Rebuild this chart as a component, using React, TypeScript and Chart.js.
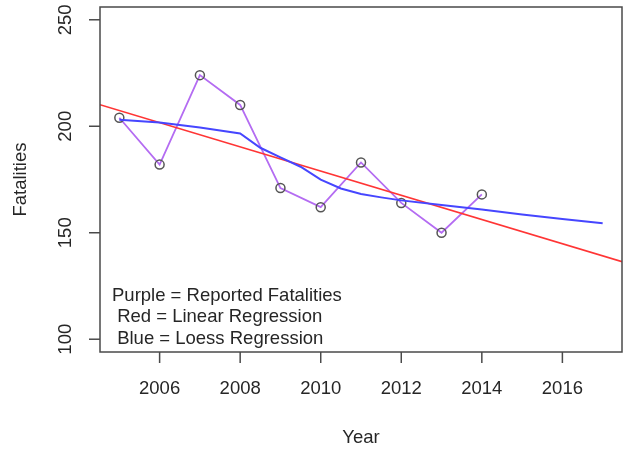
import React, { useEffect, useRef } from "react";
import { Chart, registerables } from "chart.js";

Chart.register(...registerables);

const years = [2005, 2006, 2007, 2008, 2009, 2010, 2011, 2012, 2013, 2014];
const fatalities = [204, 182, 224, 210, 171, 162, 183, 164, 150, 168];

const regressionX = [2004.52, 2017.48];
const regressionY = [210.1, 136.4];

const loessX = [2005, 2006, 2007, 2008, 2008.5, 2009, 2009.5, 2010, 2010.5, 2011, 2011.5, 2012, 2013, 2014, 2015, 2016, 2017];
const loessY = [203.1, 201.8, 199.4, 196.6, 189.9, 185.4, 181.0, 174.9, 170.8, 168.2, 166.6, 165.2, 163.0, 160.9, 158.6, 156.5, 154.5];

const xTicks = [2006, 2008, 2010, 2012, 2014, 2016];
const yTicks = [100, 150, 200, 250];

const xRange = [2004.52, 2017.48];
const yRange = [94, 256];

const legendLines = ["Purple = Reported Fatalities", " Red = Linear Regression", " Blue = Loess Regression"];
const xTitle = "Year";
const yTitle = "Fatalities";

const FONT = '18.5px "Liberation Sans", Arial, sans-serif';
const TEXT = "#262626";
const AXIS = "#4a4a4a";

const axesPlugin = {
  id: "rAxes",
  afterDraw(chart: any) {
    const ctx = chart.ctx;
    const a = chart.chartArea;
    const xs = chart.scales.x;
    const ys = chart.scales.y;
    ctx.save();
    ctx.strokeStyle = AXIS;
    ctx.lineWidth = 1.5;
    ctx.strokeRect(a.left, a.top, a.right - a.left, a.bottom - a.top);
    ctx.fillStyle = TEXT;
    ctx.font = FONT;
    ctx.textAlign = "center";
    ctx.textBaseline = "middle";
    for (const t of xTicks) {
      const px = xs.getPixelForValue(t);
      ctx.beginPath();
      ctx.moveTo(px, a.bottom);
      ctx.lineTo(px, a.bottom + 11);
      ctx.stroke();
      ctx.fillText(String(t), px, a.bottom + 37);
    }
    for (const t of yTicks) {
      const py = ys.getPixelForValue(t);
      ctx.beginPath();
      ctx.moveTo(a.left, py);
      ctx.lineTo(a.left - 11, py);
      ctx.stroke();
      ctx.save();
      ctx.translate(a.left - 34, py);
      ctx.rotate(-Math.PI / 2);
      ctx.fillText(String(t), 0, 0);
      ctx.restore();
    }
    ctx.fillText(xTitle, (a.left + a.right) / 2, a.bottom + 86);
    ctx.save();
    ctx.translate(21, (a.top + a.bottom) / 2);
    ctx.rotate(-Math.PI / 2);
    ctx.fillText(yTitle, 0, 0);
    ctx.restore();
    ctx.textAlign = "left";
    legendLines.forEach((s, i) => {
      ctx.fillText(s, a.left + 12, a.bottom - 56 + i * 21.4);
    });
    ctx.restore();
  },
};

export default function App() {
  const ref = useRef<HTMLCanvasElement>(null);
  useEffect(() => {
    document.body.style.margin = "0";
    const chart = new Chart(ref.current!, {
      type: "scatter",
      data: {
        datasets: [
          {
            label: "Loess",
            data: loessX.map((x, i) => ({ x, y: loessY[i] })),
            showLine: true,
            borderColor: "#4646ff",
            borderWidth: 2,
            pointRadius: 0,
            order: 1,
          },
          {
            label: "Linear",
            data: regressionX.map((x, i) => ({ x, y: regressionY[i] })),
            showLine: true,
            borderColor: "#ff3535",
            borderWidth: 1.6,
            pointRadius: 0,
            order: 2,
          },
          {
            label: "Reported",
            data: years.map((x, i) => ({ x, y: fatalities[i] })),
            showLine: true,
            borderColor: "#b46cf2",
            borderWidth: 1.8,
            pointRadius: 4.5,
            pointBorderColor: "#555555",
            pointBackgroundColor: "rgba(0,0,0,0)",
            pointBorderWidth: 1.5,
            order: 3,
          },
        ],
      },
      options: {
        animation: false,
        responsive: false,
        layout: { autoPadding: false, padding: { left: 100, top: 7, right: 1, bottom: 100 } },
        plugins: { legend: { display: false }, tooltip: { enabled: false } },
        scales: {
          x: { type: "linear", min: xRange[0], max: xRange[1], display: false },
          y: { type: "linear", min: yRange[0], max: yRange[1], display: false },
        },
      },
      plugins: [axesPlugin],
    });
    return () => chart.destroy();
  }, []);
  return <canvas ref={ref} width={623} height={452} style={{ display: "block" }} />;
}
